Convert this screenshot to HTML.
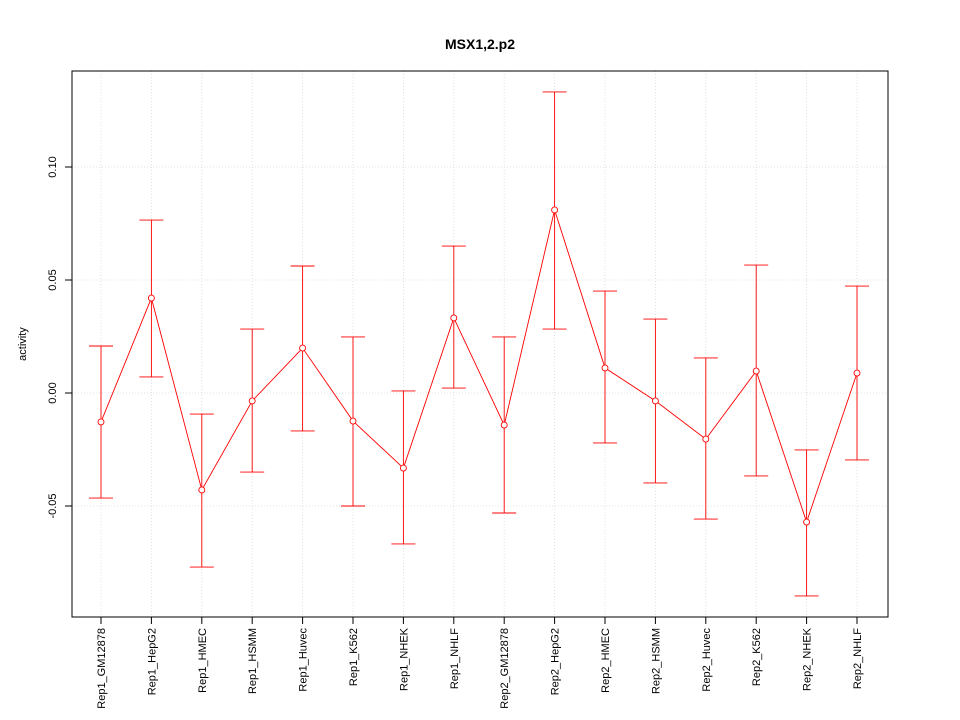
<!DOCTYPE html>
<html><head><meta charset="utf-8"><style>body{margin:0;background:#fff}svg{display:block;font-family:"Liberation Sans",sans-serif}</style></head>
<body>
<svg id="chart" width="960" height="720">
<text x="480" y="49" text-anchor="middle" font-weight="bold" font-size="14">MSX1,2.p2</text>
<text transform="translate(26,344) rotate(-90)" text-anchor="middle" font-size="11">activity</text>
<g id="grid"></g>
<rect x="72" y="71" width="816" height="546" fill="none" stroke="#000"/>
<g id="axes"></g><g id="marks"></g>
</svg>
<script>
const categories=["Rep1_GM12878","Rep1_HepG2","Rep1_HMEC","Rep1_HSMM","Rep1_Huvec","Rep1_K562","Rep1_NHEK","Rep1_NHLF","Rep2_GM12878","Rep2_HepG2","Rep2_HMEC","Rep2_HSMM","Rep2_Huvec","Rep2_K562","Rep2_NHEK","Rep2_NHLF"];
const values=[-0.0128,0.042,-0.0429,-0.0035,0.0199,-0.0124,-0.0332,0.0332,-0.0142,0.081,0.0111,-0.0035,-0.0204,0.0097,-0.0571,0.0088];
const upper=[0.0208,0.0765,-0.0093,0.0283,0.0562,0.0248,0.0009,0.065,0.0248,0.1332,0.0451,0.0327,0.0155,0.0566,-0.0252,0.0473];
const lower=[-0.0465,0.0071,-0.077,-0.035,-0.0168,-0.05,-0.0668,0.0022,-0.0531,0.0283,-0.0221,-0.0398,-0.0558,-0.0367,-0.0898,-0.0296];
const yTicks=[-0.05,0,0.05,0.1];
const yTickLabels=["-0.05","0.00","0.05","0.10"];
const NS="http://www.w3.org/2000/svg";
const X=i=>101+i*(756/(categories.length-1));
const Y=v=>393-v*2260;
function mk(tag,attrs,parent,text){const e=document.createElementNS(NS,tag);for(const k in attrs)e.setAttribute(k,attrs[k]);if(text!==undefined)e.textContent=text;document.getElementById(parent).appendChild(e);return e;}
categories.forEach((c,i)=>{
 let g=mk('line',{x1:X(i),x2:X(i),y1:71,y2:617,stroke:'#d8d8d8','stroke-width':0.8,'stroke-dasharray':'1,2'},'grid');
 
 
 let t=mk('line',{x1:X(i),x2:X(i),y1:617,y2:624,stroke:'#000'},'axes');
 
 
 let l=mk('text',{transform:`translate(${X(i)+4},628) rotate(-90)`,'text-anchor':'end','font-size':'11'},'axes',c);
 
 
});
yTicks.forEach((v,i)=>{
 let g=mk('line',{x1:72,x2:888,y1:Y(v),y2:Y(v),stroke:'#d8d8d8','stroke-width':0.8,'stroke-dasharray':'1,2'},'grid');
 
 
 let t=mk('line',{x1:65,x2:72,y1:Y(v),y2:Y(v),stroke:'#000'},'axes');
 
 
 let l=mk('text',{transform:`translate(56,${Y(v)}) rotate(-90)`,'text-anchor':'middle','font-size':'11'},'axes',yTickLabels[i]);
 
 
});
categories.forEach((c,i)=>{
 let e=mk('path',{d:`M${X(i)-12},${Y(upper[i])}H${X(i)+12}M${X(i)},${Y(upper[i])}V${Y(lower[i])}M${X(i)-12},${Y(lower[i])}H${X(i)+12}`,stroke:'#f00','stroke-width':0.9,fill:'none'},'marks');
 
 
});
let p=mk('polyline',{points:values.map((v,i)=>X(i)+','+Y(v)).join(' '),stroke:'#f00','stroke-width':0.9,fill:'none'},'marks');


values.forEach((v,i)=>{
 let c=mk('circle',{cx:X(i),cy:Y(v),r:3,stroke:'#f00','stroke-width':0.9,fill:'#fff'},'marks');
 
 
});
</script>
</body></html>
